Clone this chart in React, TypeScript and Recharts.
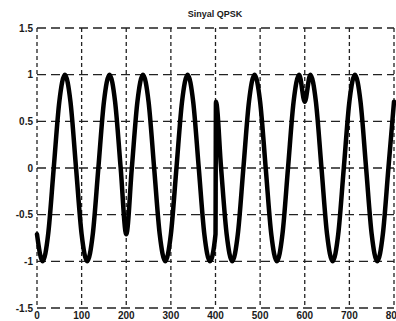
import { LineChart, Line, XAxis, YAxis, CartesianGrid } from "recharts";

// samples (time index vs amplitude)
const sampleT = [
  0, 12.5, 25, 37.5, 50, 62.5, 75, 87.5, 100, 112.5, 125, 137.5, 150, 162.5, 175, 187.5,
  200, 212.5, 225, 237.5, 250, 262.5, 275, 287.5, 300, 312.5, 325, 337.5, 350, 362.5, 375, 387.5,
  400, 401, 412.5, 425, 437.5, 450, 462.5, 475, 487.5, 500, 512.5, 525, 537.5, 550, 562.5, 575, 587.5,
  600, 612.5, 625, 637.5, 650, 662.5, 675, 687.5, 700, 712.5, 725, 737.5, 750, 762.5, 775, 787.5, 800,
];
const signal = [
  -0.71, -1, -0.71, 0, 0.71, 1, 0.71, 0, -0.71, -1, -0.71, 0, 0.71, 1, 0.71, 0,
  -0.71, 0, 0.71, 1, 0.71, 0, -0.71, -1, -0.71, 0, 0.71, 1, 0.71, 0, -0.71, -1,
  -0.71, 0.71, 0, -0.71, -1, -0.71, 0, 0.71, 1, 0.71, 0, -0.71, -1, -0.71, 0, 0.71, 1,
  0.71, 1, 0.71, 0, -0.71, -1, -0.71, 0, 0.71, 1, 0.71, 0, -0.71, -1, -0.71, 0, 0.71,
];
const xTicks = [0, 100, 200, 300, 400, 500, 600, 700, 800];
const yTicks = [-1.5, -1, -0.5, 0, 0.5, 1, 1.5];

const data = sampleT.map((t, i) => ({ t, v: signal[i] }));

const tickStyle = { fill: "#1a1a1a", fontSize: 10, fontWeight: 700, fontFamily: "Liberation Sans, Arial, sans-serif" };

export default function App() {
  return (
    <div style={{ position: "absolute", left: 0, top: 0, width: 396, height: 321, overflow: "hidden", background: "#fff" }}>
      <div
        style={{
          position: "absolute",
          top: 10,
          left: 215,
          transform: "translateX(-50%)",
          fontSize: 9,
          lineHeight: "9px",
          fontWeight: 700,
          fontFamily: "Liberation Sans, Arial, sans-serif",
          color: "#1a1a1a",
          whiteSpace: "nowrap",
        }}
      >
        Sinyal QPSK
      </div>
      <LineChart width={396} height={321} data={data} margin={{ top: 28, right: 2, bottom: 0, left: 0 }}>
        <CartesianGrid vertical={false} stroke="#222" strokeWidth={1.3} strokeDasharray="9 5" />
        <CartesianGrid horizontal={false} stroke="#222" strokeWidth={1.3} strokeDasharray="4 3" />
        <XAxis
          dataKey="t"
          type="number"
          domain={[0, 800]}
          ticks={xTicks}
          axisLine={false}
          tickLine={false}
          tickSize={0}
          tickMargin={4}
          height={13}
          interval={0}
          tick={tickStyle}
        />
        <YAxis
          type="number"
          domain={[-1.5, 1.5]}
          ticks={yTicks}
          axisLine={false}
          tickLine={false}
          tickSize={0}
          tickMargin={4}
          width={37}
          interval={0}
          tick={tickStyle}
        />
        <Line
          dataKey="v"
          type="monotoneX"
          stroke="#000"
          strokeWidth={4.5}
          dot={false}
          strokeLinejoin="round"
          strokeLinecap="round"
          isAnimationActive={false}
        />
      </LineChart>
    </div>
  );
}
